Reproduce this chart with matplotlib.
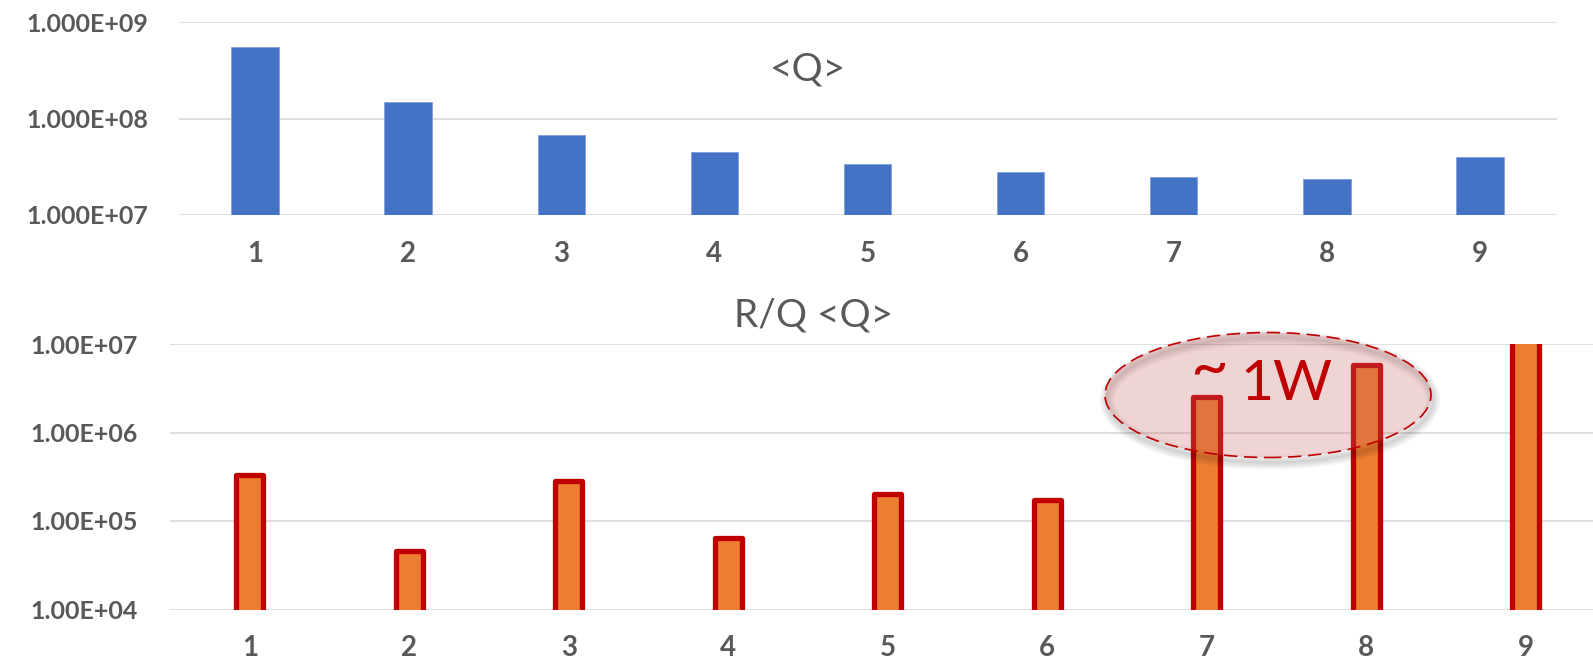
import matplotlib
matplotlib.use("Agg")
import matplotlib.pyplot as plt
from matplotlib.patches import Ellipse
from matplotlib.ticker import FixedLocator, FixedFormatter, NullLocator

# Mode index
modes = [1, 2, 3, 4, 5, 6, 7, 8, 9]

# Mean Q per mode
q_mean = [5.46e8, 1.49e8, 6.7e7, 4.5e7, 3.34e7, 2.76e7, 2.5e7, 2.37e7, 4.0e7]

# R/Q times <Q> per mode
rq_q = [3.34e5, 4.6e4, 2.86e5, 6.4e4, 2.04e5, 1.71e5, 2.5e6, 5.8e6, 1.5e7]

top_ticks = [1e7, 1e8, 1e9]
top_ticklabels = ["1.000E+07", "1.000E+08", "1.000E+09"]
bot_ticks = [1e4, 1e5, 1e6, 1e7]
bot_ticklabels = ["1.00E+04", "1.00E+05", "1.00E+06", "1.00E+07"]

W, H = 1593, 663
fig = plt.figure(figsize=(W / 100, H / 100), dpi=100)
fig.patch.set_facecolor("white")

FONT = ["Lato", "DejaVu Sans"]
GRAY = "#595959"
GRID = "#D9D9D9"


def px_axes(left, top, right, bottom):
    return fig.add_axes([left / W, 1 - bottom / H, (right - left) / W, (bottom - top) / H])


def style(ax, ticks, labels, ypad, xpad):
    ax.set_yscale("log")
    ax.set_xlim(0.5, 9.5)
    ax.yaxis.set_major_locator(FixedLocator(ticks))
    ax.yaxis.set_major_formatter(FixedFormatter(labels))
    ax.yaxis.set_minor_locator(NullLocator())
    ax.set_xticks(modes)
    ax.set_xticklabels([str(m) for m in modes])
    for s in ax.spines.values():
        s.set_visible(False)
    ax.tick_params(axis="both", length=0)
    ax.tick_params(axis="y", pad=ypad)
    ax.tick_params(axis="x", pad=xpad)
    for lab in ax.get_yticklabels():
        lab.set_fontfamily(FONT)
        lab.set_fontweight("bold")
        lab.set_fontsize(18)
        lab.set_color(GRAY)
    for lab in ax.get_xticklabels():
        lab.set_fontfamily(FONT)
        lab.set_fontweight("bold")
        lab.set_fontsize(20)
        lab.set_color(GRAY)
    ax.grid(axis="y", which="major", color=GRID, linewidth=1.2)
    ax.set_axisbelow(True)
    ax.patch.set_alpha(0)


# Upper panel: <Q>
ax1 = px_axes(178.5, 22, 1556.5, 215)
style(ax1, top_ticks, top_ticklabels, ypad=22, xpad=19)
ax1.bar(modes, q_mean, width=0.31, color="#4472C4",
        edgecolor="#7FA0DA", linewidth=0.6, zorder=3)
ax1.set_ylim(top_ticks[0], top_ticks[-1])

# Lower panel: R/Q <Q>
ax2 = px_axes(170, 344, 1605.5, 609.5)
style(ax2, bot_ticks, bot_ticklabels, ypad=23, xpad=18)
bars = ax2.bar(modes, rq_q, width=0.167, color="#ED7D31",
               edgecolor="#C00000", linewidth=3.8, zorder=3)
for b in bars:
    b.set_joinstyle("round")
ax2.set_ylim(bot_ticks[0], bot_ticks[-1])

# Panel titles
fig.text(808 / W, 1 - 81 / H, "<Q>", ha="center", va="baseline",
         fontsize=28, color=GRAY, family=FONT)
fig.text(814 / W, 1 - 326.5 / H, "R/Q <Q>", ha="center", va="baseline",
         fontsize=28, color=GRAY, family=FONT)

# Highlight ellipse with a soft drop shadow around its rim
cx, cy, ew, eh = 1268, 395, 326, 125
for i in range(5):
    sh = Ellipse(((cx + 2) / W, 1 - (cy + 5) / H), ew / W, eh / H,
                 transform=fig.transFigure, facecolor="none", edgecolor="#000000",
                 linewidth=1.5 + 2.2 * i, alpha=0.035, zorder=4)
    fig.add_artist(sh)
ell = Ellipse((cx / W, 1 - cy / H), ew / W, eh / H, transform=fig.transFigure,
              facecolor=(0.78, 0.38, 0.38, 0.27), edgecolor="#C00000",
              linewidth=1.2, linestyle=(0, (8, 4)), zorder=5)
fig.add_artist(ell)
fig.text(1209 / W, 1 - 387 / H, "~", ha="center", va="baseline",
         fontsize=47, color="#C00000", family=FONT, zorder=6)
fig.text(1286 / W, 1 - 399.5 / H, "1W", ha="center", va="baseline",
         fontsize=41, color="#C00000", family=FONT, zorder=6)

fig.savefig("out.png", dpi=100, facecolor="white")
